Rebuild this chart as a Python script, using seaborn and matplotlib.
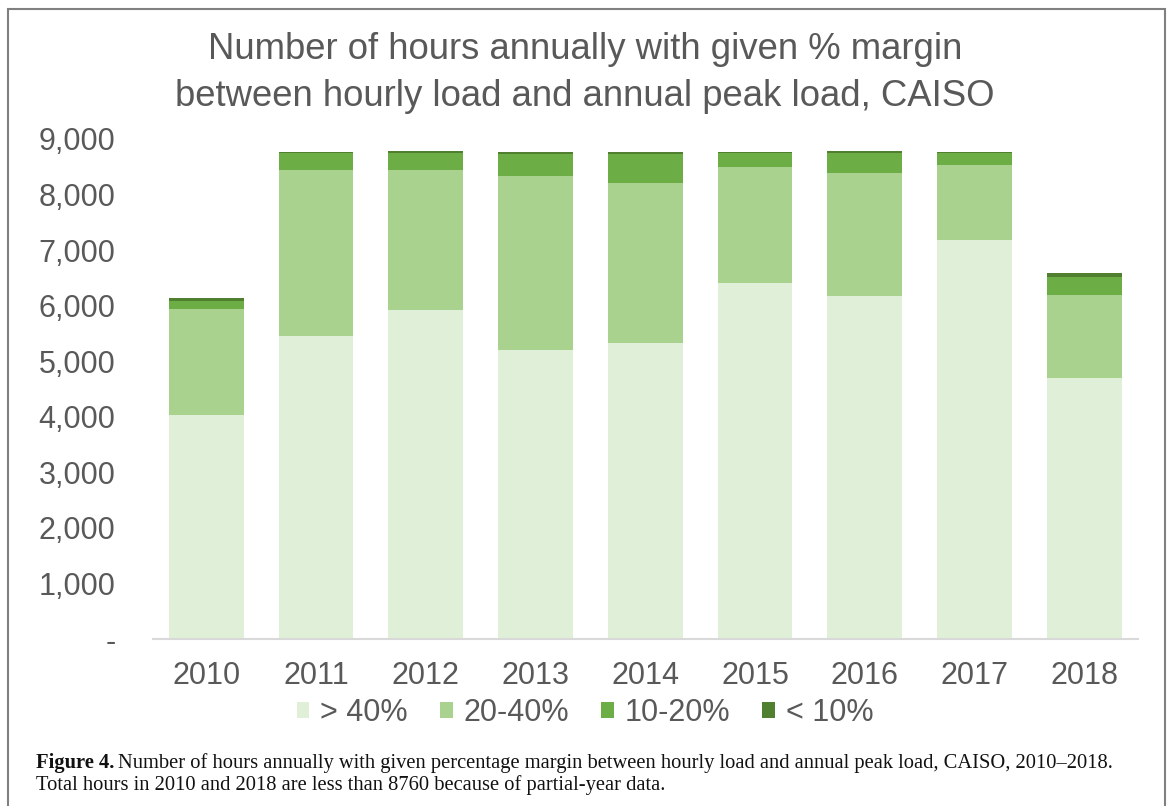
import matplotlib
matplotlib.use("Agg")
import matplotlib.pyplot as plt
from matplotlib.patches import Rectangle, Patch
import seaborn as sns
import pandas as pd
import numpy as np

# ---- data ----
years = ["2010", "2011", "2012", "2013", "2014", "2015", "2016", "2017", "2018"]
series_names = ["> 40%", "20-40%", "10-20%", "< 10%"]
gt40 = [4040, 5460, 5930, 5210, 5330, 6400, 6170, 7190, 4700]
m20_40 = [1900, 2980, 2510, 3130, 2870, 2090, 2220, 1340, 1490]
m10_20 = [140, 300, 310, 390, 530, 250, 360, 210, 330]
lt10 = [55, 20, 34, 30, 30, 20, 34, 20, 70]
yticks = [0, 1000, 2000, 3000, 4000, 5000, 6000, 7000, 8000, 9000]

colors = ["#e0efd7", "#a8d28d", "#6cad45", "#4f7f2f"]
text_col = "#595959"

sns.set_theme(style="white")
plt.rcParams["font.family"] = ["Liberation Sans", "DejaVu Sans"]

W, H = 1171, 806
fig = plt.figure(figsize=(W / 100, H / 100), dpi=100)
fig.patch.set_facecolor("white")

ax_left, ax_right = 153, 1138
ax_bottom, ax_top = 639, 139
ax = fig.add_axes([ax_left / W, 1 - ax_bottom / H, (ax_right - ax_left) / W, (ax_bottom - ax_top) / H])

df = pd.DataFrame({"year": years, "gt40": gt40, "m20_40": m20_40, "m10_20": m10_20, "lt10": lt10})
layers = [df["gt40"].values,
          df["m20_40"].values,
          df["m10_20"].values,
          df["lt10"].values]
cum = np.cumsum(np.vstack(layers), axis=0)

# draw cumulative layers from the tallest down so each shows its own segment
for i in range(3, -1, -1):
    d = pd.DataFrame({"year": years, "value": cum[i]})
    sns.barplot(data=d, x="year", y="value", color=colors[i], saturation=1,
                width=0.68, edgecolor="none", linewidth=0, ax=ax, order=years)

ax.set_xlim(-0.485, 8.49)
ax.set_ylim(0, 9000)
ax.set_yticks(yticks)
ax.set_yticklabels(["-" if v == 0 else f"{v:,}" for v in yticks])
ax.set_xlabel("")
ax.set_ylabel("")
for s in ["top", "right", "left"]:
    ax.spines[s].set_visible(False)
ax.spines["bottom"].set_color("#d9d9d9")
ax.spines["bottom"].set_linewidth(1.5)
ax.tick_params(axis="both", length=0, labelsize=22, colors=text_col)
ax.tick_params(axis="y", pad=27)
ax.tick_params(axis="x", pad=16)
ax.grid(False)

# legend
handles = [Patch(facecolor=c, edgecolor="none") for c in colors]
fig.legend(handles, series_names, loc="center", bbox_to_anchor=(585 / W, 1 - 713 / H),
           ncol=4, frameon=False, fontsize=22, handlelength=0.42, handleheight=0.42,
           handletextpad=0.35, columnspacing=1.05, labelcolor=text_col)

# title
fig.text(585 / W, 1 - 73 / H,
         "Number of hours annually with given % margin\nbetween hourly load and annual peak load, CAISO",
         ha="center", va="center", fontsize=26.3, color=text_col, linespacing=1.42)

# frame
fig.add_artist(Rectangle((8 / W, -0.1), (1165 - 8) / W, 0.1 + (806 - 9) / H,
                         transform=fig.transFigure, fill=False, edgecolor="#808080", lw=1.5))

# caption
cap_x = 36 / W
serif = ["Liberation Serif", "DejaVu Serif"]
cap_fs = 14.75
t1 = fig.text(cap_x, 1 - 763 / H, "Figure 4.", ha="left", va="center", fontsize=cap_fs,
              fontweight="bold", family=serif, color="#111111")
fig.canvas.draw()
bb = t1.get_window_extent(renderer=fig.canvas.get_renderer())
fig.text(bb.x1 / W + 4 / W, 1 - 763 / H,
         "Number of hours annually with given percentage margin between hourly load and annual peak load, CAISO, 2010\u20132018.",
         ha="left", va="center", fontsize=cap_fs, family=serif, color="#111111")
fig.text(cap_x, 1 - 785 / H,
         "Total hours in 2010 and 2018 are less than 8760 because of partial-year data.",
         ha="left", va="center", fontsize=cap_fs, family=serif, color="#111111")

fig.savefig("out.png", dpi=100, facecolor="white")
